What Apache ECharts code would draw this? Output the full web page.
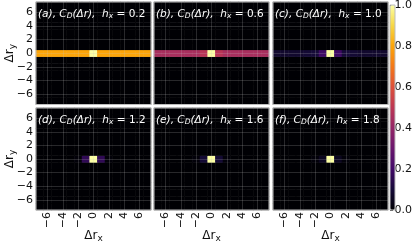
<!DOCTYPE html>
<html><head><meta charset="utf-8">
<script src="https://cdn.jsdelivr.net/npm/echarts@6/dist/echarts.min.js"></script>
<style>html,body{margin:0;padding:0;background:#fff}#c{width:415px;height:244px}</style>
</head><body><div id="c"></div>
<script>
// ---- data ----
const cells = [-7,-6,-5,-4,-3,-2,-1,0,1,2,3,4,5,6,7];
const tickValues = [-6,-4,-2,0,2,4,6];
const panelLetters = ['a','b','c','d','e','f'];
const hxValues = ['0.2','0.6','1.0','1.2','1.6','1.8'];
// C_D(Δr) along the row Δr_y = 0 (every other row is 0)
const rowA = [0.80,0.80,0.80,0.80,0.80,0.80,0.80,1.00,0.80,0.80,0.80,0.80,0.80,0.80,0.80];
const rowB = [0.45,0.45,0.45,0.45,0.45,0.45,0.49,1.00,0.49,0.45,0.45,0.45,0.45,0.45,0.45];
const rowC = [0.08,0.08,0.08,0.08,0.09,0.10,0.19,1.00,0.19,0.10,0.09,0.08,0.08,0.08,0.08];
const rowD = [0,0,0,0,0,0.01,0.16,1.00,0.16,0.01,0,0,0,0,0];
const rowE = [0,0,0,0,0,0.01,0.09,1.00,0.09,0.01,0,0,0,0,0];
const rowF = [0,0,0,0,0,0.01,0.05,1.00,0.05,0.01,0,0,0,0,0];
const rows = [rowA,rowB,rowC,rowD,rowE,rowF];
const colorbarTicks = [0,0.2,0.4,0.6,0.8,1.0];
const inferno = ['#000004','#160b39','#420a68','#6a176e','#932667','#bc3754','#dd513a','#f37819','#fca50a','#f6d746','#fcffa4'];

// ---- layout ----
const FONT = 'DejaVu Sans';
const lefts = [36,154,273], tops = [2,108], W = 115, Hs = [102.5,102];
const fmt = v => { const n = Number(v); return n < 0 ? '\u2212' + Math.abs(n) : String(n); };
const showTick = (i, v) => tickValues.includes(Number(v));

const grid = [], xAxis = [], yAxis = [], series = [], graphic = [];
for (let p = 0; p < 6; p++) {
  const r = Math.floor(p / 3), c = p % 3;
  grid.push({left: lefts[c], top: tops[r], width: W, height: Hs[r]});
  const split = {show: true, interval: showTick, alignWithLabel: true,
                 lineStyle: {color: 'rgba(200,200,200,0.2)', width: 1}};
  xAxis.push({type: 'category', gridIndex: p, data: cells.map(String), z: 5,
    axisLine: {show: false}, axisTick: {show: false},
    axisLabel: {show: r === 1, interval: showTick, rotate: 90, margin: 2, fontSize: 11,
                fontFamily: FONT, color: '#111', formatter: fmt},
    splitLine: split});
  yAxis.push({type: 'category', gridIndex: p, data: cells.map(String), z: 5,
    axisLine: {show: false}, axisTick: {show: false},
    axisLabel: {show: c === 0, interval: showTick, margin: 3, fontSize: 11,
                fontFamily: FONT, color: '#111', formatter: fmt},
    splitLine: split});
  const data = [];
  for (let yi = 0; yi < cells.length; yi++)
    for (let xi = 0; xi < cells.length; xi++)
      data.push([xi, yi, cells[yi] === 0 ? rows[p][xi] : 0]);
  series.push({type: 'heatmap', xAxisIndex: p, yAxisIndex: p, data: data, z: 2,
               emphasis: {disabled: true}, progressive: 0});
  graphic.push({type: 'rect', z: 100, silent: true,
    shape: {x: lefts[c], y: tops[r], width: W, height: Hs[r]},
    style: {fill: 'none', stroke: '#bdbdbd', lineWidth: 1}});
  graphic.push({type: 'text', z: 101, silent: true, x: lefts[c] + 2, y: tops[r] + 12,
    style: {text: '{i|(' + panelLetters[p] + '), C}{s|D}{i|(\u0394r),  h}{s|x}{n| = ' + hxValues[p] + '}',
      verticalAlign: 'middle', fill: '#fff',
      rich: {
        i: {fontFamily: FONT, fontStyle: 'italic', fontSize: 10.5, fill: '#fff', lineHeight: 13},
        n: {fontFamily: FONT, fontSize: 10.5, fill: '#fff', lineHeight: 13},
        s: {fontFamily: FONT, fontStyle: 'italic', fontSize: 7.5, fill: '#fff', lineHeight: 8, verticalAlign: 'bottom'}
      }}});
}
// colorbar label axis
grid.push({left: 390, top: 5, width: 5, height: 205});
xAxis.push({type: 'value', gridIndex: 6, show: false});
yAxis.push({type: 'value', gridIndex: 6, min: 0, max: 1, interval: 0.2, position: 'right',
  axisLine: {show: false}, axisTick: {show: true, length: 3, lineStyle: {color: '#222'}},
  splitLine: {show: false},
  axisLabel: {margin: 3, fontSize: 11, fontFamily: FONT, color: '#111', formatter: v => v.toFixed(1)}});
graphic.push({type: 'rect', z: 100, silent: true, shape: {x: 390, y: 5, width: 5, height: 205},
  style: {fill: 'none', stroke: '#bdbdbd', lineWidth: 1}});
// axis names
const axName = (t, s) => ({text: '{m|' + t + '}{s|' + s + '}', fill: '#111',
  align: 'center', verticalAlign: 'middle',
  rich: {m: {fontFamily: FONT, fontSize: 12, fill: '#111', lineHeight: 14},
         s: {fontFamily: FONT, fontSize: 9, fill: '#111', lineHeight: 9, verticalAlign: 'bottom'}}});
graphic.push({type: 'text', x: 10, y: tops[0] + Hs[0] / 2, rotation: Math.PI / 2, style: axName('\u0394r', 'y')});
graphic.push({type: 'text', x: 10, y: tops[1] + Hs[1] / 2, rotation: Math.PI / 2, style: axName('\u0394r', 'y')});
for (let c = 0; c < 3; c++)
  graphic.push({type: 'text', x: lefts[c] + W / 2, y: 236, style: axName('\u0394r', 'x')});

const chart = echarts.init(document.getElementById('c'), null, {renderer: 'canvas'});
chart.setOption({
  animation: false,
  backgroundColor: '#fff',
  grid, xAxis, yAxis, series, graphic,
  visualMap: {type: 'continuous', min: 0, max: 1, seriesIndex: [0,1,2,3,4,5],
    inRange: {color: inferno}, calculable: false, orient: 'vertical',
    left: 390, top: 5, itemWidth: 5, itemHeight: 205, padding: 0, text: null,
    hoverLink: false}
});
</script></body></html>
